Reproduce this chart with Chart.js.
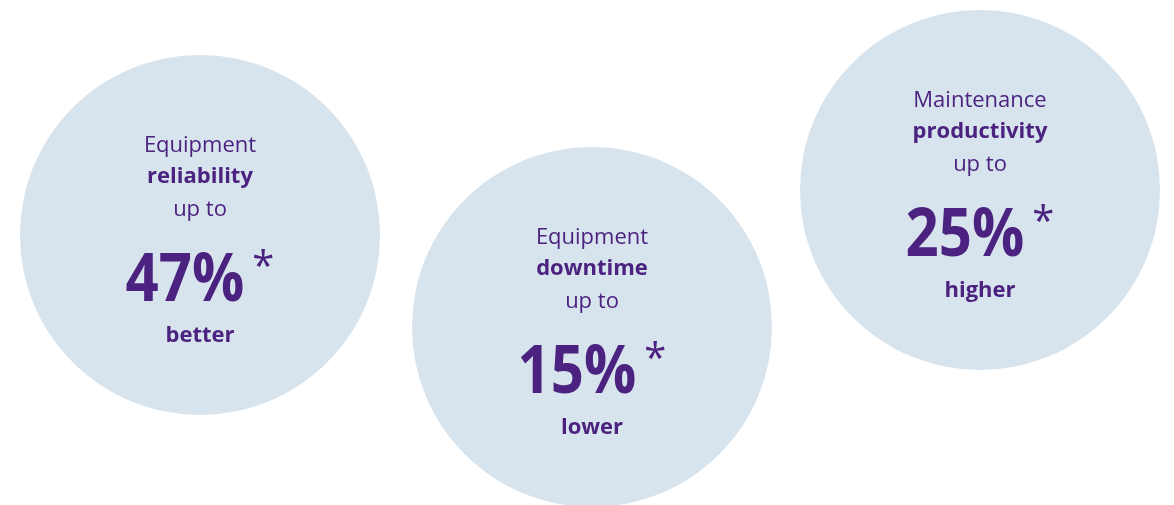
<!DOCTYPE html>
<html>
<head>
<meta charset="utf-8">
<script src="https://cdn.jsdelivr.net/npm/chart.js@4"></script>
<style>
  html, body { margin: 0; padding: 0; background: #ffffff; }
  #wrap { width: 1174px; height: 505px; position: relative; }
</style>
</head>
<body>
<div id="wrap"><canvas id="kpiChart"></canvas></div>
<script>
// ========================================
// Data
// ========================================

const subjects   = ['Equipment', 'Equipment', 'Maintenance'];
const metrics    = ['reliability', 'downtime', 'productivity'];
const values     = [47, 15, 25];
const directions = ['better', 'lower', 'higher'];

// bubble centres in page coordinates (x, y from top)
const bubbleX = [200, 592, 980];
const bubbleY = [235, 327, 190];

// ========================================
// Styles
// ========================================

const W = 1174, H = 505;
const radius = 180;
const circleColor = '#d7e3ed';
const textColor = '#4b227f';
const fontFamily = '"Open Sans", "Noto Sans", sans-serif';

// ========================================
// Text inside the circles
// ========================================

const circleText = {
    id: 'circleText',
    afterDatasetsDraw(chart) {
        const ctx = chart.ctx;
        const meta = chart.getDatasetMeta(0);
        ctx.save();
        ctx.fillStyle = textColor;
        ctx.textAlign = 'center';
        ctx.textBaseline = 'middle';

        meta.data.forEach((pt, i) => {
            const cx = pt.x;
            const cy = pt.y;

            ctx.font = '400 22px ' + fontFamily;
            ctx.fillText(subjects[i], cx, cy - 89);

            ctx.font = '700 22px ' + fontFamily;
            ctx.fillText(metrics[i], cx, cy - 58);

            ctx.font = '400 22px ' + fontFamily;
            ctx.fillText('up to', cx, cy - 25);

            // big number (slightly condensed) with asterisk
            const squeeze = 0.88;
            const big = values[i] + '%';
            ctx.font = '700 66px ' + fontFamily;
            const w = ctx.measureText(big).width * squeeze;
            ctx.font = '400 40px ' + fontFamily;
            const aw = ctx.measureText('*').width;
            const gap = 8;
            const left = cx - (w + gap + aw) / 2;

            ctx.textAlign = 'left';
            ctx.save();
            ctx.translate(left, cy + 47);
            ctx.scale(squeeze, 1);
            ctx.font = '700 66px ' + fontFamily;
            ctx.fillText(big, 0, 0);
            ctx.restore();
            ctx.font = '400 40px ' + fontFamily;
            ctx.fillText('*', left + w + gap, cy + 34);
            ctx.textAlign = 'center';

            ctx.font = '700 22px ' + fontFamily;
            ctx.fillText(directions[i], cx, cy + 101);
        });
        ctx.restore();
    }
};

// ========================================
// Chart
// ========================================

// the bubble controller insets the chart area by the largest radius,
// so the scale runs from radius to size - radius to keep page pixels
new Chart(document.getElementById('kpiChart'), {
    type: 'bubble',
    data: {
        datasets: [{
            data: values.map((v, i) => ({ x: bubbleX[i], y: bubbleY[i], r: radius })),
            backgroundColor: circleColor,
            borderWidth: 0,
            hoverRadius: 0,
            hoverBackgroundColor: circleColor,
            clip: false
        }]
    },
    options: {
        responsive: true,
        maintainAspectRatio: false,
        animation: false,
        layout: { padding: 0 },
        plugins: {
            legend: { display: false },
            tooltip: { enabled: false }
        },
        scales: {
            x: { type: 'linear', display: false, min: radius, max: W - radius },
            y: { type: 'linear', display: false, min: radius, max: H - radius, reverse: true }
        }
    },
    plugins: [circleText]
});
</script>
</body>
</html>
